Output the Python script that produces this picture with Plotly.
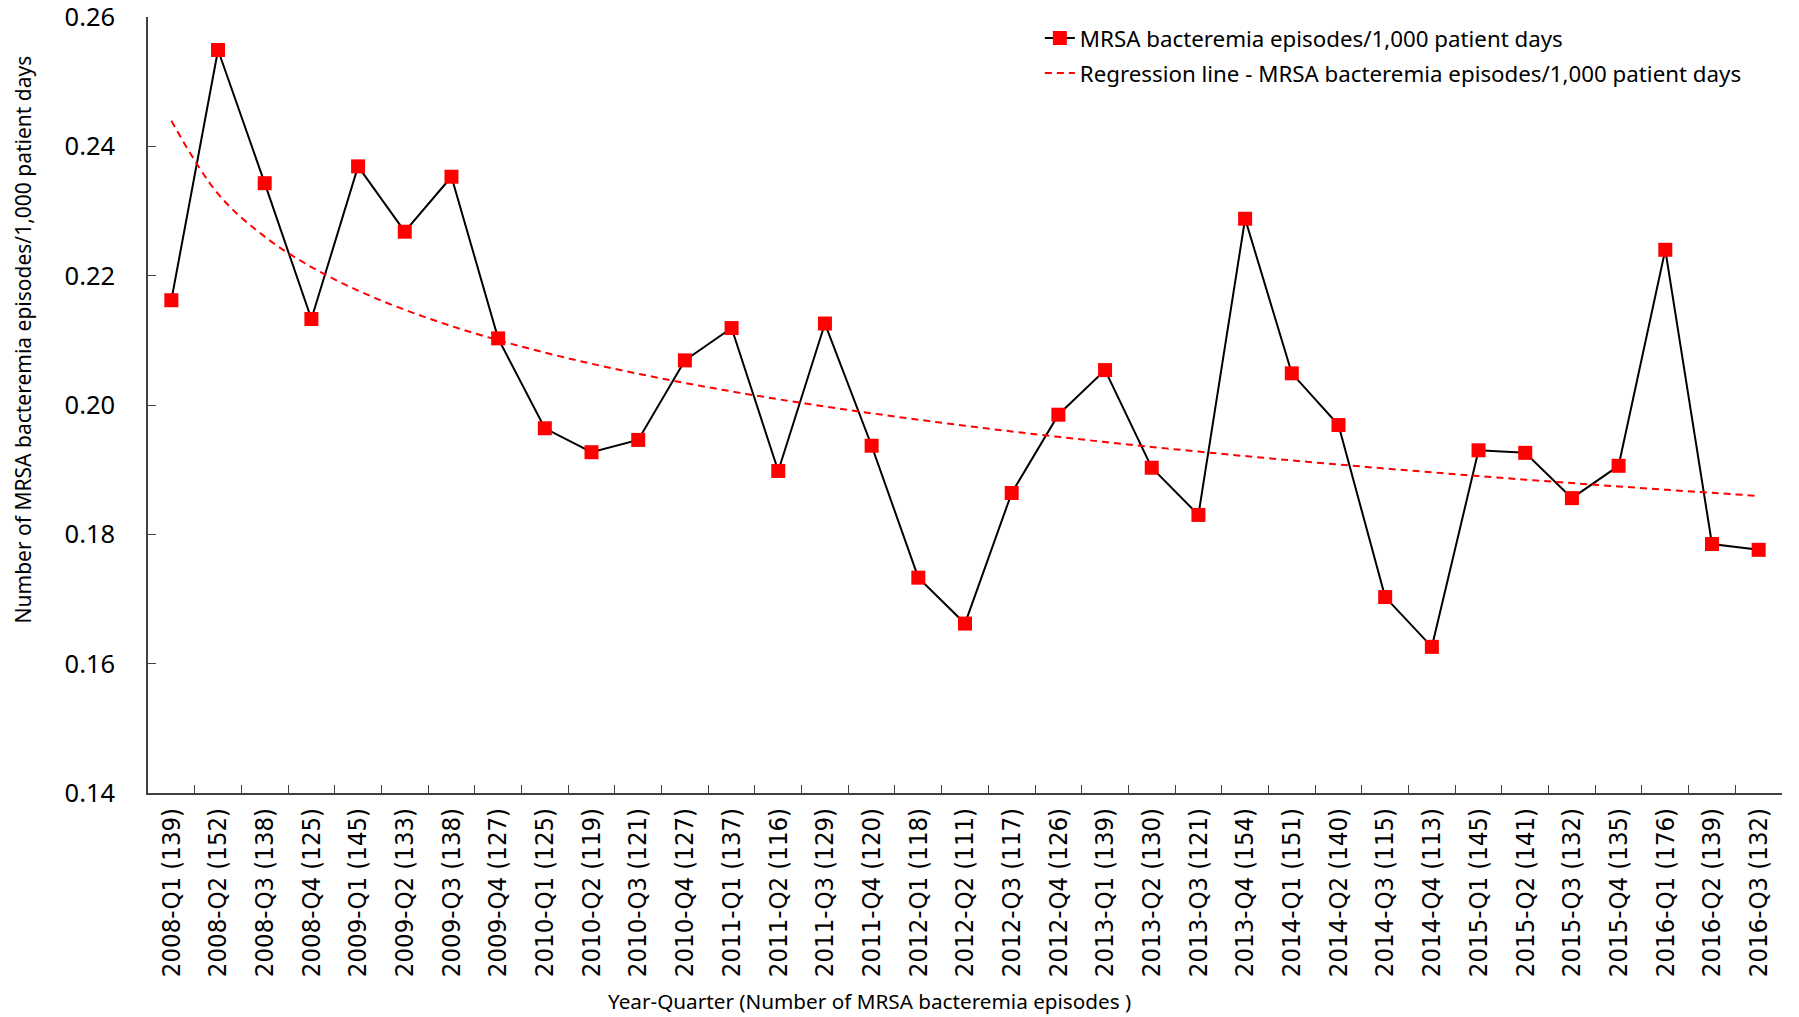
import numpy as np
import plotly.graph_objects as go

quarters = [
    "2008-Q1", "2008-Q2", "2008-Q3", "2008-Q4",
    "2009-Q1", "2009-Q2", "2009-Q3", "2009-Q4",
    "2010-Q1", "2010-Q2", "2010-Q3", "2010-Q4",
    "2011-Q1", "2011-Q2", "2011-Q3", "2011-Q4",
    "2012-Q1", "2012-Q2", "2012-Q3", "2012-Q4",
    "2013-Q1", "2013-Q2", "2013-Q3", "2013-Q4",
    "2014-Q1", "2014-Q2", "2014-Q3", "2014-Q4",
    "2015-Q1", "2015-Q2", "2015-Q3", "2015-Q4",
    "2016-Q1", "2016-Q2", "2016-Q3",
]
episodes = [139, 152, 138, 125, 145, 133, 138, 127, 125, 119, 121, 127,
            137, 116, 129, 120, 118, 111, 117, 126, 139, 130, 121, 154,
            151, 140, 115, 113, 145, 141, 132, 135, 176, 139, 132]
rate = [0.2162, 0.2549, 0.2343, 0.2133, 0.2369, 0.2268, 0.2353, 0.2103,
        0.1964, 0.1927, 0.1946, 0.2069, 0.2119, 0.1898, 0.2126, 0.1937,
        0.1733, 0.1662, 0.1864, 0.1985, 0.2054, 0.1903, 0.1830, 0.2288,
        0.2049, 0.1969, 0.1703, 0.1626, 0.1930, 0.1926, 0.1856, 0.1906,
        0.2240, 0.1785, 0.1776]
y_ticks = [0.14, 0.16, 0.18, 0.20, 0.22, 0.24, 0.26]

labels = [f"{q} ({n})" for q, n in zip(quarters, episodes)]

# Logarithmic regression fitted to the series
t = np.arange(1, len(rate) + 1)
b, a = np.polyfit(np.log(t), np.array(rate), 1)
reg = a + b * np.log(t)

fig = go.Figure()
fig.add_trace(go.Scatter(
    x=labels, y=rate, mode="lines+markers",
    name="MRSA bacteremia episodes/1,000 patient days",
    line=dict(color="black", width=2),
    marker=dict(symbol="square", color="#FF0000", size=14),
    legendgroup="a",
))
fig.add_trace(go.Scatter(
    x=labels, y=reg, mode="lines",
    name="Regression line - MRSA bacteremia episodes/1,000 patient days",
    line=dict(color="#FF0000", width=2, dash="7px,5px", shape="spline"),
    legendgroup="b",
))

W, H = 1799, 1017
L, R, T, B = 148.3, 17, 17.3, 223.7
pw = W - L - R
ph = H - T - B
FONT = "Noto Sans, Open Sans, sans-serif"

fig.update_layout(
    width=W, height=H,
    margin=dict(l=L, r=R, t=T, b=B, pad=0, autoexpand=False),
    paper_bgcolor="white", plot_bgcolor="white",
    font=dict(family=FONT, color="black", size=20),
    showlegend=True,
    legend=dict(
        x=(1040 - L) / pw, y=1.0, xanchor="left", yanchor="top",
        font=dict(size=22.3, family=FONT, color="black"),
        bgcolor="rgba(0,0,0,0)", traceorder="grouped", tracegroupgap=3,
    ),
    xaxis=dict(
        type="category", range=[-0.5, len(labels) - 0.5], automargin=False,
        showline=True, linecolor="#404040", linewidth=1.5,
        ticks="inside", ticklen=8, tickcolor="#404040", tickwidth=1.3,
        tickson="boundaries", tickangle=-90, ticklabeloverflow="allow",
        tickfont=dict(family="DejaVu Sans Condensed, DejaVu Sans, sans-serif",
                      size=25.5, color="black"),
        showgrid=False, zeroline=False, ticklabelstandoff=3,
    ),
    yaxis=dict(
        range=[0.14, 0.26], tickvals=y_ticks, ticktext=[f"{v:.2f}" for v in y_ticks],
        automargin=False, ticklabeloverflow="allow",
        showline=True, linecolor="#404040", linewidth=1.5,
        ticks="inside", ticklen=8, tickcolor="#404040", tickwidth=1.3,
        tickfont=dict(family=FONT, size=25.5, color="black"),
        showgrid=False, zeroline=False, ticklabelstandoff=26,
    ),
    annotations=[
        dict(text="Year-Quarter (Number of MRSA bacteremia episodes )",
             xref="paper", yref="paper",
             x=(869.6 - L) / pw, y=(T + ph - 1001) / ph,
             xanchor="center", yanchor="middle", showarrow=False,
             font=dict(family=FONT, size=20.7, color="black")),
        dict(text="Number of MRSA bacteremia episodes/1,000 patient days",
             xref="paper", yref="paper",
             x=(23 - L) / pw, y=(T + ph - 340) / ph,
             xanchor="center", yanchor="middle", textangle=-90, showarrow=False,
             font=dict(family=FONT, size=21, color="black")),
    ],
)

fig.write_html("out.html", config={"displayModeBar": False},
               post_script="document.body.style.margin='0px';")
